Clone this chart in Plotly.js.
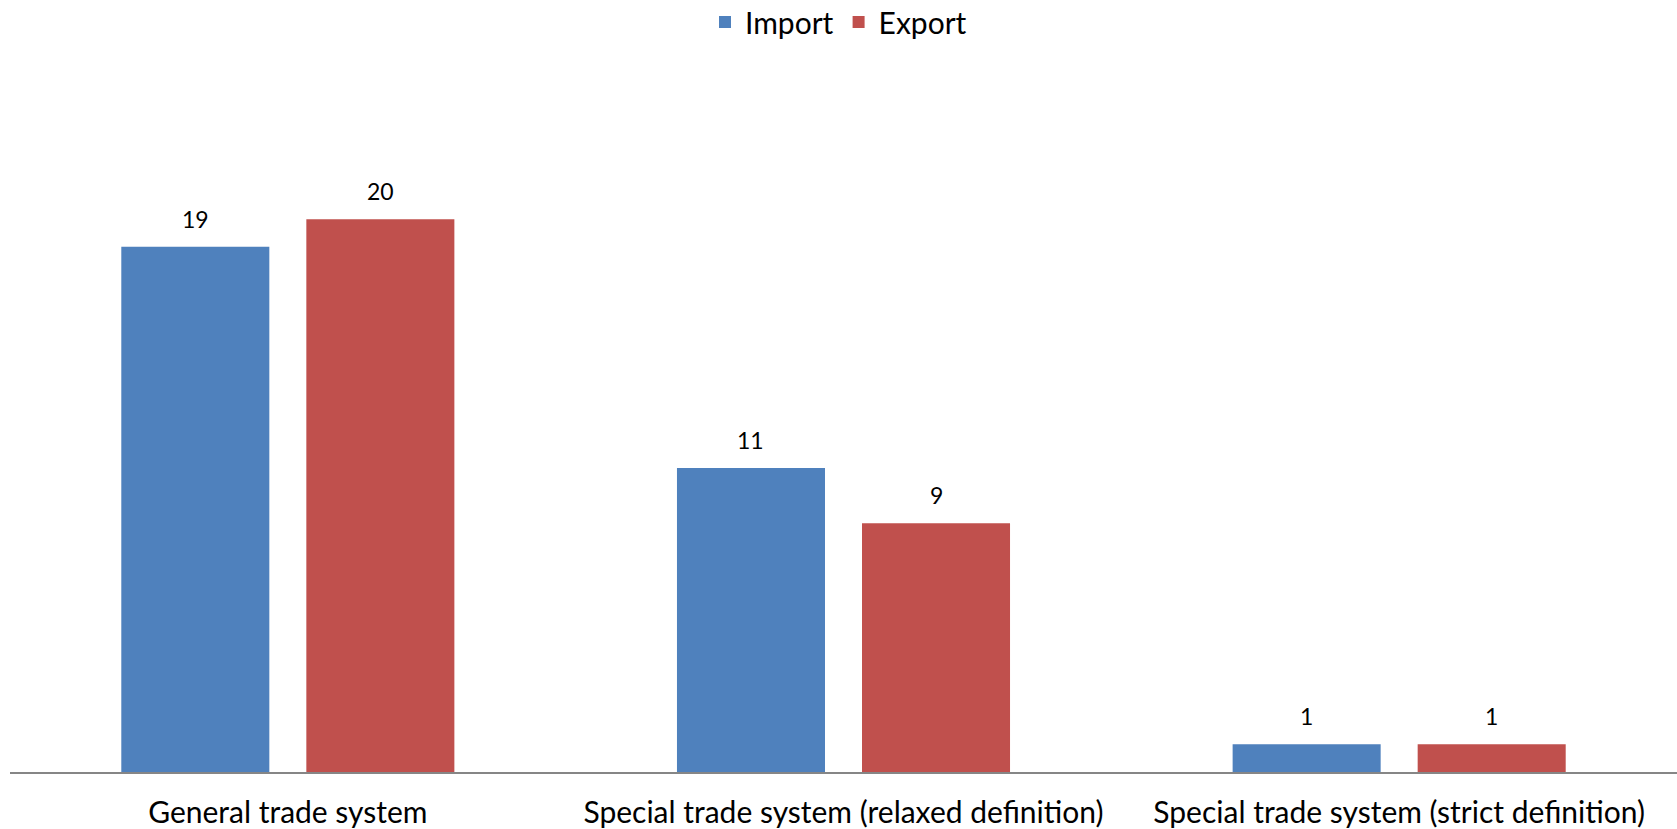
<!DOCTYPE html>
<html>
<head>
<meta charset="utf-8">
<script src="https://cdn.plot.ly/plotly-3.0.1.min.js"></script>
<style>html,body{margin:0;padding:0;background:#fff;}#chart{width:1677px;height:829px;}</style>
</head>
<body>
<div id="chart"></div>
<script>
const categories = ["General trade system", "Special trade system (relaxed definition)", "Special trade system (strict definition)"];
const importValues = [19, 11, 1];
const exportValues = [20, 9, 1];
const seriesNames = ["Import", "Export"];
const colors = ["#4F81BD", "#C0504D"];

const FONT = "Lato, 'Open Sans', 'DejaVu Sans', sans-serif";

const traces = [importValues, exportValues].map((vals, i) => ({
  type: "bar",
  name: seriesNames[i],
  x: categories,
  y: vals,
  marker: {color: colors[i]},
  hoverinfo: "x+y+name"
}));

// data labels placed via axis coordinates
const annotations = [];
[importValues, exportValues].forEach((vals, i) => {
  vals.forEach((v, j) => {
    annotations.push({
      x: categories[j], y: v, xref: "x", yref: "y",
      text: String(v), showarrow: false,
      xshift: (i === 0 ? -1 : 1) * 92.6,
      yanchor: "bottom", yshift: 12,
      font: {family: FONT, size: 23, color: "#000"}
    });
  });
});

const layout = {
  width: 1677, height: 829,
  margin: {l: 10, r: 0, t: 81, b: 57, autoexpand: false},
  paper_bgcolor: "#fff", plot_bgcolor: "#fff",
  barmode: "group", bargap: 0.334, bargroupgap: 0.2,
  showlegend: true,
  legend: {orientation: "h", x: 0.5, xanchor: "center", xref: "container",
           y: 1 - 22 / 829, yanchor: "middle", yref: "container",
           font: {family: FONT, size: 30, color: "#000"}, traceorder: "normal"},
  xaxis: {showline: true, linecolor: "#868686", linewidth: 2, ticks: "",
          automargin: false, ticklabelstandoff: 13,
          tickfont: {family: FONT, size: 30, color: "#000"}, fixedrange: true},
  yaxis: {range: [0, 25], visible: false, showgrid: false, zeroline: false, fixedrange: true, automargin: false},
  annotations: annotations,
  font: {family: FONT}
};

Plotly.newPlot("chart", traces, layout, {displayModeBar: false, staticPlot: true});
</script>
</body>
</html>
